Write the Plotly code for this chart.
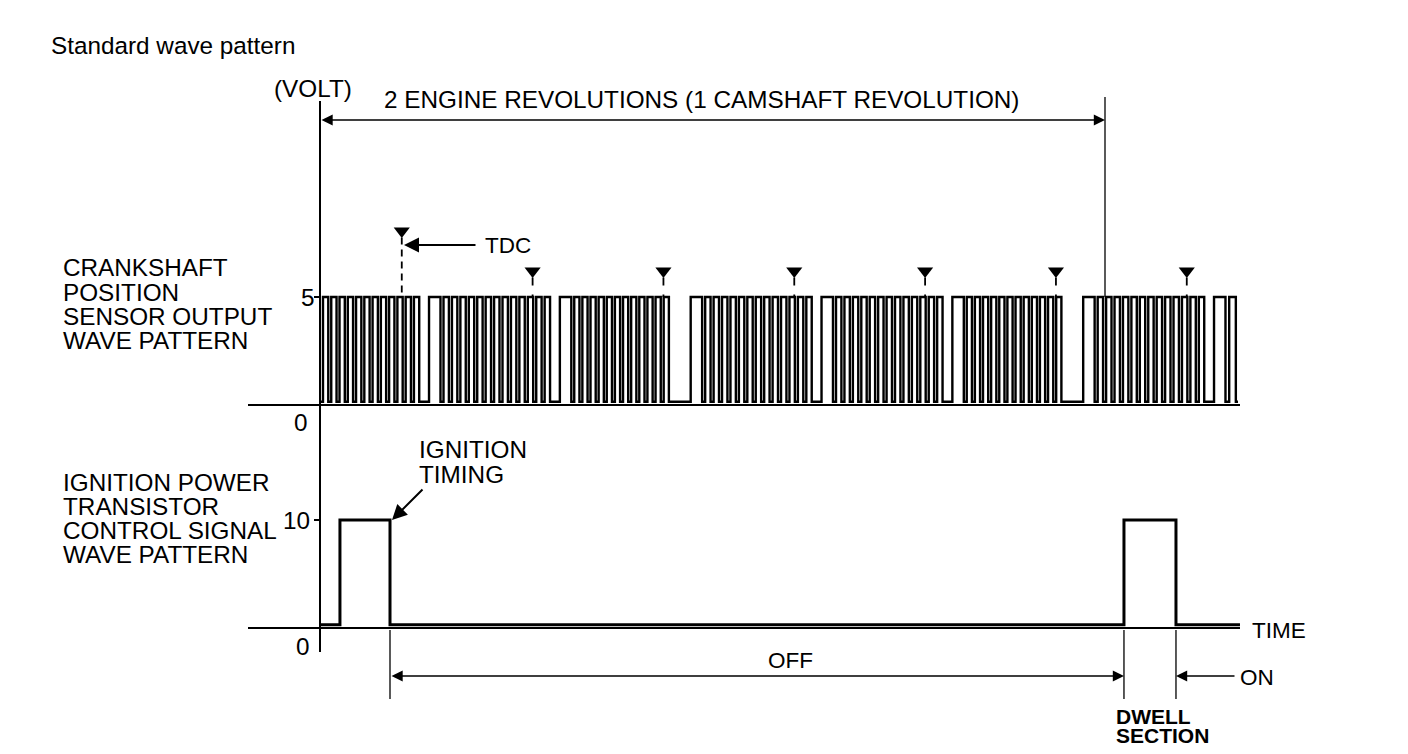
import plotly.graph_objects as go

# ---------------- data ----------------
# TDC positions (crank degrees, 0 = start of the 2-revolution window)
tdc_deg = [75, 195, 315, 435, 555, 675, 795]
# missing-tooth gap that follows each TDC
gap_kind = ["short", "short", "long", "short", "short", "long", "short"]
gap_fall_after_tdc = {"short": 16, "long": 5}
wide_rise_after_tdc = 25
wide_fall_after_tdc = 35.5
# regular teeth in each tooth group (group 1 starts at 0 deg)
teeth_per_group = [12, 13, 12, 13, 13, 12, 13]
tail_teeth = 1
tail_end_deg = 840
crank_end_deg = 842
crank_high_v = 5
crank_low_v = 0.15

# ignition power transistor control signal (edge positions, deg / volts)
ign_edges_deg = [0, 18.3, 64.2, 737.4, 785.1, 843.8]
ign_levels_v = [0.3, 10, 0.3, 10, 0.3, 0.3]

revolution_window_deg = [0, 720]

# ---------------- geometry helpers ----------------
OFF = 8
FW, FH = 1408 - 2 * OFF, 754 - 2 * OFF
X0, PXDEG = 320, 785 / 720.0
Y0C, PXVC = 405, 21.6
Y0I, PXVI = 628, 10.8


def deg(X):
    return (X - X0) / PXDEG


def px(X):
    return (X - OFF) / FW


def py(Y):
    return 1 - (Y - OFF) / FH


# ---------------- build crank waveform ----------------
cx, cy = [0], [crank_low_v]
LOW_FRAC = 0.36


def add_group(S, E, n):
    p = (E - S) / n
    for k in range(n):
        cx.append(S + k * p + LOW_FRAC * p); cy.append(crank_high_v)
        cx.append(S + (k + 1) * p); cy.append(crank_low_v)


add_group(0, tdc_deg[0] + gap_fall_after_tdc[gap_kind[0]], teeth_per_group[0])
for i, t in enumerate(tdc_deg):
    cx.append(t + wide_rise_after_tdc); cy.append(crank_high_v)
    S = t + wide_fall_after_tdc
    cx.append(S); cy.append(crank_low_v)
    if i + 1 < len(tdc_deg):
        E = tdc_deg[i + 1] + gap_fall_after_tdc[gap_kind[i + 1]]
        add_group(S, E, teeth_per_group[i + 1])
    else:
        add_group(S, tail_end_deg, tail_teeth)
cx.append(crank_end_deg); cy.append(crank_low_v)

fig = go.Figure()
fig.add_trace(go.Scatter(x=cx, y=cy, mode="lines", line=dict(color="black", width=2.4, shape="hv"),
                         yaxis="y", showlegend=False, hoverinfo="skip"))
fig.add_trace(go.Scatter(x=ign_edges_deg, y=ign_levels_v, mode="lines",
                         line=dict(color="black", width=3, shape="hv"),
                         yaxis="y2", showlegend=False, hoverinfo="skip"))

# TDC markers
tri_y = [(Y0C - 231) / PXVC] + [(Y0C - 271) / PXVC] * (len(tdc_deg) - 1)
fig.add_trace(go.Scatter(x=tdc_deg, y=tri_y, mode="markers",
                         marker=dict(symbol="triangle-down", size=14, color="black",
                                     line=dict(color="black", width=0)),
                         yaxis="y", showlegend=False, hoverinfo="skip"))

shapes = []
for i, t in enumerate(tdc_deg):
    shapes.append(dict(type="line", xref="x", yref="y", x0=t, x1=t,
                       y0=tri_y[i] - 0.3, y1=crank_high_v,
                       line=dict(color="black", width=1.8, dash="7px,5px" if i == 0 else "8px,9px")))

line_k = dict(color="black", width=2)
thin = dict(color="black", width=1.3)
# axes
shapes.append(dict(type="line", xref="paper", yref="paper", x0=px(320), x1=px(320), y0=py(101), y1=py(652), line=line_k))
shapes.append(dict(type="line", xref="paper", yref="paper", x0=px(248), x1=px(1240), y0=py(Y0C), y1=py(Y0C), line=line_k))
shapes.append(dict(type="line", xref="paper", yref="paper", x0=px(248), x1=px(1240), y0=py(Y0I), y1=py(Y0I), line=line_k))
# ticks at 5 and 10
shapes.append(dict(type="line", xref="paper", yref="y", x0=px(314), x1=px(320), y0=crank_high_v, y1=crank_high_v, line=line_k))
shapes.append(dict(type="line", xref="paper", yref="y2", x0=px(314), x1=px(320), y0=10, y1=10, line=line_k))
# 720 deg marker
shapes.append(dict(type="line", xref="x", yref="paper", x0=revolution_window_deg[1], x1=revolution_window_deg[1],
                   y0=py(97), y1=py(297), line=thin))
# dwell / off dimension lines
for e in [ign_edges_deg[2], ign_edges_deg[3], ign_edges_deg[4]]:
    shapes.append(dict(type="line", xref="x", yref="paper", x0=e, x1=e, y0=py(630), y1=py(699), line=thin))

FONT = "Liberation Sans, Arial, sans-serif"
FS = 24.3
ann = []


def text(t, X, Y, size=FS, anchor="left", bold=False):
    if bold:
        t = "<b>" + t + "</b>"
    ann.append(dict(text=t, x=px(X), y=py(Y), xref="paper", yref="paper", showarrow=False,
                    xanchor=anchor, yanchor="middle", font=dict(family=FONT, size=size, color="black")))


text("Standard wave pattern", 49, 45)
text("(VOLT)", 272, 88)
text("2 ENGINE REVOLUTIONS (1 CAMSHAFT REVOLUTION)", 382, 99)
for i, s in enumerate(["CRANKSHAFT", "POSITION", "SENSOR OUTPUT", "WAVE PATTERN"]):
    text(s, 61, 268 + i * 24.3)
for i, s in enumerate(["IGNITION POWER", "TRANSISTOR", "CONTROL SIGNAL", "WAVE PATTERN"]):
    text(s, 61, 482 + i * 24.3)
text("5", 299, 297)
text("0", 292, 422)
text("10", 281, 520)
text("0", 294, 646)
text("TDC", 483, 246, 22.5)
text("IGNITION", 417, 449)
text("TIMING", 417, 474)
text("TIME", 1250, 630, 22.5)
text("OFF", 790, 660, 22.5, "center")
text("ON", 1238, 677, 22.5)
text("DWELL", 1114, 716, 21, bold=True)
text("SECTION", 1114, 735, 21, bold=True)


def arrow(Xh, Yh, Xt, Yt, both=False, w=1.4, s=1.6):
    ann.append(dict(text="", x=px(Xh), y=py(Yh), xref="paper", yref="paper",
                    ax=Xt - Xh, ay=Yt - Yh, axref="pixel", ayref="pixel",
                    showarrow=True, arrowhead=2, arrowsize=s, arrowwidth=w, arrowcolor="black",
                    arrowside="end+start" if both else "end", startarrowhead=2, startarrowsize=s))


arrow(1105, 120, 320, 120, both=True)
arrow(404, 245, 477, 245, w=2, s=1.5)
arrow(392, 520, 424, 488, w=2, s=1.5)
arrow(1124, 676, 390, 676, both=True)
arrow(1176, 676, 1236, 676)

fig.update_layout(
    width=FW, height=FH, margin=dict(l=0, r=0, t=0, b=0, pad=0),
    paper_bgcolor="white", plot_bgcolor="white",
    xaxis=dict(visible=False, range=[deg(OFF), deg(1408 - OFF)]),
    yaxis=dict(visible=False, range=[(Y0C - (754 - OFF)) / PXVC, (Y0C - OFF) / PXVC]),
    yaxis2=dict(visible=False, overlaying="y", range=[(Y0I - (754 - OFF)) / PXVI, (Y0I - OFF) / PXVI]),
    shapes=shapes, annotations=ann, showlegend=False,
)
fig.write_html("out.html")
